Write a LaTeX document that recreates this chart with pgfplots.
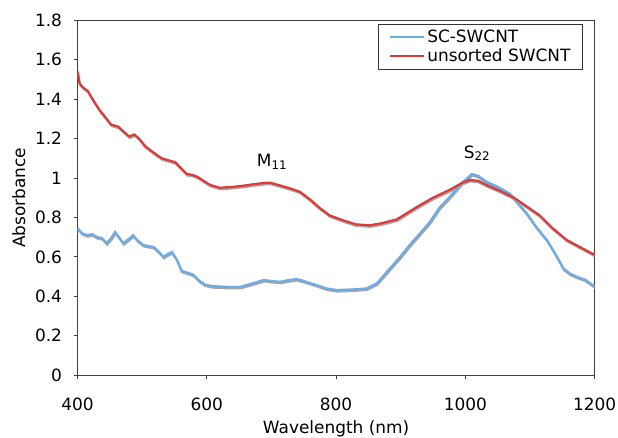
\documentclass[border=0pt]{standalone}
\usepackage{pgfplots}
\pgfplotsset{compat=1.18}
\usepackage{fontspec}
\setmainfont{DejaVu Sans}
\definecolor{scblue}{RGB}{110,172,232}
\definecolor{unred}{RGB}{222,58,58}
\definecolor{shadow}{RGB}{165,165,165}
\newcommand{\fs}{\fontsize{17}{19}\selectfont}
\begin{document}
\begin{tikzpicture}
\begin{axis}[
  scale only axis,
  width=517.2bp, height=355.3bp,
  xmin=400, xmax=1200, ymin=0, ymax=1.8,
  xtick={400,600,800,1000,1200},
  ytick={0,0.2,0.4,0.6,0.8,1,1.2,1.4,1.6,1.8},
  /pgf/number format/assume math mode=true,
  /pgf/number format/set thousands separator={},
  tick label style={font=\fs},
  label style={font=\fs},
  xticklabel style={yshift=-15pt},
  yticklabel style={xshift=-8pt},
  xlabel={Wavelength (nm)}, ylabel={Absorbance},
  xlabel style={yshift=-3pt},
  ylabel style={yshift=3pt},
  axis line style={draw=black!75, line width=1pt},
  tick style={draw=black!75, line width=0.8pt},
  tick align=outside, tickwidth=4pt,
  xtick pos=bottom, ytick pos=left,
  legend style={at={(0.977,0.99)}, anchor=north east, draw=black!80, line width=0.8pt,
    font=\fs, row sep=1pt, inner xsep=10pt, inner ysep=4pt},
  legend cell align=left,
  legend image code/.code={\draw[#1, line width=2.5pt] (0cm,0cm) -- (1.2cm,0cm);},
]
\pgfplotstableread{
x y
400 0.746
407 0.72
415 0.71
423 0.715
430 0.70
438 0.695
445 0.67
452 0.695
458 0.726
464 0.70
471 0.67
479 0.69
486 0.71
494 0.68
502 0.66
510 0.655
518 0.65
526 0.625
533 0.60
540 0.615
546 0.625
553 0.59
561 0.53
570 0.52
579 0.51
588 0.48
597 0.46
608 0.452
620 0.45
635 0.448
651 0.448
670 0.465
688 0.483
700 0.478
713 0.474
726 0.482
739 0.488
750 0.478
770 0.457
785 0.44
801 0.432
825 0.435
847 0.44
863 0.466
880 0.53
899 0.60
915 0.665
930 0.72
945 0.777
960 0.85
976 0.905
993 0.97
1010 1.02
1020 1.01
1033 0.98
1050 0.955
1069 0.92
1082 0.87
1095 0.82
1110 0.75
1126 0.686
1140 0.61
1152 0.54
1162 0.515
1172 0.50
1185 0.485
1193 0.466
1200 0.45
}\blue
\pgfplotstableread{
x y
400 1.54
403 1.48
408 1.46
416 1.44
425 1.39
435 1.34
445 1.30
452 1.27
463 1.26
473 1.23
480 1.21
488 1.22
495 1.20
505 1.16
517 1.13
530 1.10
540 1.09
551 1.08
560 1.05
569 1.02
578 1.015
586 1.005
595 0.985
605 0.965
620 0.95
641 0.955
660 0.962
672 0.968
690 0.975
698 0.976
710 0.965
729 0.947
744 0.93
760 0.89
775 0.847
790 0.81
811 0.785
830 0.765
852 0.76
870 0.77
894 0.79
925 0.853
950 0.90
976 0.94
995 0.975
1007 0.99
1020 0.985
1035 0.96
1053 0.935
1075 0.90
1095 0.855
1115 0.81
1135 0.745
1157 0.685
1180 0.645
1200 0.61
}\red
\addplot[shadow, line width=2.2pt, xshift=0.6pt, yshift=-1.5pt, forget plot] table {\blue};
\addplot[shadow, line width=2.2pt, xshift=0.6pt, yshift=-1.5pt, forget plot] table {\red};
\addplot[scblue, line width=2.2pt] table {\blue};
\addlegendentry{SC-SWCNT}
\addplot[unred, line width=2.2pt] table {\red};
\addlegendentry{unsorted SWCNT}
\node[font=\fs] at (axis cs:701,1.08) {M\textsubscript{11}};
\node[font=\fs] at (axis cs:1018,1.125) {S\textsubscript{22}};
\end{axis}
\pgfresetboundingbox
\path (current axis.south west) ++(-77.5bp,-62.7bp) rectangle ++(618bp,438bp);
\end{tikzpicture}
\end{document}
